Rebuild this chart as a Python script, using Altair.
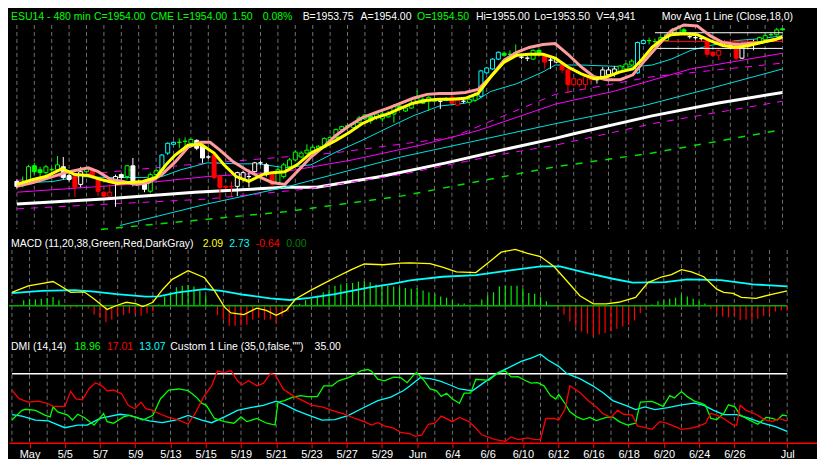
import altair as alt
import numpy as np
import pandas as pd

# ------------------------------------------------------------------ data
# candles (one per 480-min bar, index 0 = Apr 30 first bar)
O = [1876.5,1876,1876,1884.5,1882.5,1881,1882.5,1882.5,1884,1879.5,
     1879,1875,1881.5,1882.5,1877.5,1871,1869,1876,1880,1879,
     1884.5,1876,1876.5,1871.5,1880,1881,1891,1895.5,1896.5,1897,
     1896,1897.5,1895,1889,1890,1879,1874,1874,1874,1877.5,
     1879,1881.5,1886,1885,1880,1876,1879,1884,1887.5,1889,
     1891,1892,1893.5,1894,1897.5,1899,1903,1904.5,1904,1906.5,
     1908.5,1910,1909,1908.5,1909.5,1911,1915,1912.5,1914,1917.5,
     1918.5,1917.5,1917.5,1917.5,1918,1919.5,1915.5,1917.5,1917,1918,
     1920,1932,1934,1939,1942,1941.5,1941.5,1940,1939.5,1939,
     1943.5,1941.5,1938.5,1937.5,1936,1933.5,1926,1926,1926,1928.5,
     1928.5,1930,1931,1931.5,1932.5,1934,1936,1932,1947,1948.5,
     1948,1948.5,1948.5,1953.5,1952,1954,1950.5,1950,1949.5,1948.5,
     1942.5,1941,1947.5,1946,1948,1939.5,1946.5,1947.5,1947.5,1949,
     1951.5,1951.5,1954.5]
H = [1877.5,1879,1885,1886,1884,1885,1883.5,1889.5,1889,1880.5,
     1880,1884,1883.5,1883.5,1878.5,1871.5,1875,1880,1880.5,1885,
     1888.5,1877,1877,1881,1883,1890.5,1896.5,1897,1898.5,1899,
     1898.5,1898,1895.5,1890,1890.5,1880,1874.5,1876.5,1881.5,1882,
     1882.5,1886.5,1887,1886,1881,1883.5,1886,1888.5,1892.5,1892,
     1895.5,1895,1895,1899,1900,1903.5,1905,1906,1907,1910,
     1911,1911,1912,1913,1912.5,1916,1916,1915,1918,1923,
     1919.5,1920,1919,1918,1919.5,1920,1918.5,1918.5,1919,1922,
     1933.5,1935,1939.5,1943,1943,1943.5,1946.5,1941,1940.5,1944,
     1944,1942,1940,1940,1937,1934,1929.5,1929,1930.5,1931,
     1930,1935,1935,1935.5,1936,1937,1939,1948,1949,1950,
     1949.5,1951,1952,1955,1956,1955,1951.5,1951,1950.5,1949,
     1943,1944,1948.5,1947.5,1948.5,1947.5,1947.5,1949,1950.5,1952,
     1952.5,1955,1955]
L = [1873,1873.5,1875,1880,1876,1880,1881.5,1882,1877.5,1876.5,
     1868.5,1873.5,1881,1878,1869,1868.5,1868.5,1863.5,1877.5,1877.5,
     1874,1875,1871,1870.5,1879,1880.5,1890,1895,1893.5,1894,
     1895.5,1892.5,1886,1888,1877.5,1866.5,1873,1869,1869,1876.5,
     1873.5,1881,1885,1879,1874,1875,1878,1883,1887,1888.5,
     1890.5,1891.5,1893,1893.5,1897,1898.5,1902.5,1903,1903.5,1906,
     1908,1906,1908,1907,1909,1906.5,1913,1912,1913.5,1917,
     1916,1912.5,1917,1913.5,1917.5,1916,1915,1916.5,1916.5,1917,
     1919,1931.5,1933.5,1938.5,1940.5,1939.5,1941,1939,1938,1938.5,
     1941,1934,1934,1937,1932,1921.5,1925,1925,1923.5,1927,
     1926.5,1929.5,1930,1930,1932,1933.5,1935.5,1931.5,1946.5,1946.5,
     1947,1948,1948,1952,1951.5,1952.5,1949.5,1949,1948.5,1940,
     1940.5,1938.5,1946,1944.5,1938.5,1939,1945,1943.5,1947,1948.5,
     1950.5,1951,1953.5]
C = [1874,1876,1884,1881.5,1881,1884,1882.5,1885,1878.5,1877.5,
     1873.5,1881.5,1883,1879,1871.5,1869,1871,1879,1878.5,1884.5,
     1875,1876,1872.5,1880,1882,1890,1896,1896.5,1896.5,1897,
     1898,1893.5,1888.5,1889,1878.5,1873.5,1873.5,1874,1881,1881,
     1879,1886,1886,1880,1875,1882.5,1885,1887.5,1891.5,1891,
     1892.5,1894,1894.5,1898.5,1899,1903,1904.5,1905,1906,1909,
     1910.5,1907.5,1911,1911,1911.5,1915,1913.5,1914,1916.5,1919,
     1916.5,1919.5,1918.5,1917.5,1919,1916.5,1918,1917.5,1918.5,1921,
     1933,1934.5,1939,1942.5,1941,1941.5,1942.5,1940,1939.5,1943.5,
     1941.5,1937.5,1938.5,1939,1933.5,1926,1929,1928.5,1930,1930,
     1928.5,1933.5,1933.5,1934,1935.5,1936.5,1938,1947.5,1948.5,1948.5,
     1948,1950,1951.5,1953.5,1955,1953,1950.5,1950,1949.5,1941.5,
     1941,1943.5,1947.5,1946,1939.5,1947,1946.5,1947.5,1950,1951,
     1951.5,1954,1954]
KIND = ("wgggggggww" "rwgrrrrwwg" "wwwggcccgg" "gwwwrrrrww" "wwwwrggggg"
        "gggggggggg" "gggggggggg" "gggwgrrwgg" "ccccgggwwg" "grwwrrrrrr"
        "wwwwgggccg" "ggggggwwwr" "rrwwrwwwgg" "ggg")

# moving averages (bar index, price)
MA_YELLOW = [(0,1875),(2.8,1877.5),(5,1879),(7.8,1883),(10,1880),(12.3,1879.5),(14.5,1877.5),
             (17.3,1875.5),(19.5,1876),(21.7,1876.5),(24,1878.5),(25.7,1885),(27.3,1890),
             (29.5,1895),(31.7,1895.5),(34,1891),(35.7,1885),(37.8,1879),(40,1876.5),
             (42.3,1880),(44,1881),(46.2,1881.5),(48.3,1885),(50.7,1891),(52.8,1894),
             (55,1897.5),(57.3,1901.5),(59.5,1906),(61.7,1909),(64,1911),(66.2,1914),
             (68.3,1916.5),(70.7,1918),(72.8,1918.5),(75,1918.5),(77.3,1919),(79.5,1921.5),
             (81.7,1930),(84,1937.5),(86.2,1941),(88.3,1941.5),(90.7,1941.5),(92.8,1939.5),
             (95,1935),(97.3,1931.5),(99.5,1929),(101.7,1930),(104,1932.5),(106.2,1934),
             (107.8,1939),(109.5,1945),(111.2,1949),(112.8,1951.5),(115,1952),(117.3,1951.5),
             (119.5,1948.5),(121.7,1946),(124,1945),(126.2,1946),(128.3,1947.5),(130.7,1949),
             (132,1950.5)]
MA_SALMON = [(0,1874),(2.8,1876),(6.2,1879),(8.3,1881),(10.7,1882.5),(12.3,1883.5),(14,1881.5),
             (16.2,1877.5),(18.3,1876.5),(20.7,1875),(22.8,1876),(25,1880),(27.3,1886.5),
             (29.5,1894),(31.7,1896.5),(33.3,1896.5),(35,1892.5),(37.3,1886.5),(39.5,1882.5),
             (41.7,1879),(44,1876),(46.2,1875),(48.3,1881.5),(50.7,1889),(52.8,1894),
             (55,1900),(57.3,1905),(59.5,1909),(61.7,1911.5),(64,1914),(66.2,1916.5),
             (68.3,1919),(70.7,1921),(72.8,1921.5),(75,1921.5),(77.3,1922),(79.5,1923.5),
             (81.7,1930),(84,1938.5),(86.2,1942.5),(88.3,1945),(90.7,1946.5),(92.8,1947),
             (95,1941.5),(97.3,1935),(99.5,1930),(101.7,1928.5),(104,1928.5),(106.2,1931),
             (108.3,1938.5),(110.7,1946.5),(112.8,1953.5),(115,1956.5),(117.3,1956),
             (119.5,1951),(121.7,1947.5),(124,1946.5),(126.2,1947),(128.3,1947.5),
             (130.7,1949),(132,1950)]
MA_CYAN_FAST = [(0,1876),(2.8,1876),(6.2,1876.5),(10.7,1879),(16.2,1878.5),(21.7,1878.5),
                (25,1879),(28.3,1882.5),(32.8,1886),(38.3,1885.5),(41.7,1885.5),(46.2,1883.5),
                (50.7,1885),(55,1891.5),(59.5,1897.5),(64,1904),(68.3,1910),(72.8,1915),
                (77.3,1916.5),(79.5,1918.5),(81.7,1922.5),(86.2,1926.5),(90.7,1932.5),
                (92.8,1936),(97.3,1936),(101.7,1935.5),(106.2,1935),(109.5,1936),
                (112.8,1939),(116.2,1943.5),(119.5,1946),(124,1948.5),(128.3,1949.5),(132,1951)]
MA_MAGENTA = [(0,1871),(19.5,1875),(32.8,1879),(46.2,1881.5),(57.8,1887.5),(69.5,1895),
              (79.5,1902.5),(92.8,1916),(102.8,1922.5),(116.2,1934),(132,1942)]
BAND_UPPER = [(0,1877),(29.5,1885),(54.5,1891),(75,1899),(92.8,1921),(109.5,1930),(132,1937)]
BAND_LOWER = [(0,1862.5),(16.2,1865),(32.8,1867.5),(49.5,1872.5),(66.2,1880),(82.8,1890),
              (92.8,1895),(109.5,1906),(132,1917.5)]
MA_CYAN_SLOW = [(17.8,1854),(32.8,1865),(46.2,1873.5),(66.2,1889),(79.5,1897.5),(92.8,1906),
                (107.8,1915),(119.5,1924),(132,1934)]
MA_WHITE = [(0,1865),(15,1867.5),(30.7,1871),(46.2,1873.5),(51.7,1873.5),(62.8,1879),
            (74,1886),(85,1893.5),(92.8,1898.5),(96.2,1901),(109.5,1910),(120.7,1916.5),
            (132,1922)]
MA_GREEN = [(14.5,1852),(46.2,1861),(66.2,1869),(79.5,1876.5),(92.8,1884),(109.5,1891),
            (132,1903)]
# horizontal levels (from bar, to bar, price, colour)
LEVELS = [(110, 132, 1952.5, "#ffffff"), (110, 132, 1944.5, "#ffffff"), (111, 132, 1948.0, "#ff0000")]

# MACD
HIST = [0.0,0.1,0.78,0.9,0.9,1.0,1.1,1.23,0.78,0.05,
        -0.37,-0.23,-0.05,-0.37,-1.2,-1.7,-2.3,-1.9,-1.4,-1.3,
        -1.05,-1.14,-1.4,-1.05,-0.8,0.2,1.3,1.9,2.6,2.8,
        2.9,2.7,2.15,1.46,0.2,-1.3,-1.96,-2.8,-2.8,-2.8,
        -2.65,-1.96,-1.7,-1.96,-1.9,-2.4,-1.5,-0.8,0.0,0.3,
        0.78,1.0,1.46,1.9,2.3,2.8,3.0,3.2,3.2,3.4,
        3.4,3.3,3.0,2.97,2.8,2.7,2.6,2.5,2.4,2.5,
        2.15,1.9,1.7,1.3,1.14,0.78,0.32,0.32,0.18,0.18,
        0.87,1.46,1.9,2.7,2.8,2.8,2.8,2.4,1.8,1.7,
        1.3,0.64,0.1,-0.37,-1.2,-2.2,-2.9,-3.6,-3.9,-4.25,
        -4.0,-3.8,-3.6,-3.2,-2.9,-2.65,-2.05,-1.05,-0.23,0.18,
        0.64,0.78,1.0,1.14,1.6,1.3,1.0,0.64,0.32,-0.46,
        -1.14,-1.5,-1.6,-1.4,-2.0,-1.9,-2.05,-1.8,-1.4,-1.14,
        -0.8,-0.6,-0.64]
MACD_LINE = [(0,1.88),(2.8,2.78),(5,3.1),(7,3.4),(8.3,2.78),(10,1.88),(12.3,1.96),(14,0.96),
             (16.2,-0.5),(17.8,0.05),(19.5,0.5),(21.2,0.27),(22.3,-0.09),(24,0.5),(25.7,2.33),
             (27.3,3.7),(30,4.93),(32.8,3.93),(34.5,2.1),(36.2,-0.18),(37.3,-1.0),(39.5,-1.23),
             (41.7,-0.32),(43.3,-0.64),(45,-1.32),(46.7,-0.64),(48.3,0.96),(50.7,2.1),(52.8,3.0),
             (55,3.93),(57.8,5.07),(60,5.85),(63.3,5.75),(66.2,5.99),(67.8,6.0),(71.2,5.9),
             (73.3,5.4),(75.7,4.75),(79,4.66),(81.2,6.1),(83.3,7.5),(85.7,7.9),(87.8,7.35),
             (90,6.9),(92.3,5.5),(94.5,3.47),(96.7,1.41),(99,0.27),(101.2,0.27),(103.3,0.5),
             (106.2,1.19),(108.3,3.25),(110.7,4.07),(112.3,4.38),(114,5.07),(115.7,4.75),
             (117.8,4.07),(120,2.33),(121.2,1.88),(122.8,1.74),(124.2,1.19),(126.7,1.05),
             (129,1.55),(132,2.09)]
SIGNAL_LINE = [(0,1.78),(5,2.1),(10.7,2.19),(14,2.0),(17.8,1.64),(22.8,1.28),(25,1.32),
               (28.3,1.88),(32.8,2.33),(35.7,2.1),(39.5,1.55),(44,1.05),(47.3,0.82),(50.7,1.1),
               (55,1.64),(60.7,2.56),(65,3.1),(67.8,3.56),(73.3,4.07),(79,4.29),(84.5,4.93),
               (90,5.52),(93.3,5.52),(97.8,4.6),(102.3,3.79),(105.7,3.25),(111.2,3.33),
               (115,3.7),(120.7,3.6),(126.2,3.0),(132,2.73)]

# DMI
DI_PLUS = [(0,17.4),(1.7,21.1),(2.3,21.5),(4,21.1),(5.6,19.3),(6.5,18.6),(7,22.4),(7.8,20.5),
           (9.5,19.3),(10.3,17.4),(11.2,19.6),(12.3,18.4),(14,15.5),(15.6,19.9),(16.2,16.8),
           (17.3,16.2),(19,18.6),(20,19.2),(21.2,18.4),(22.3,17.4),(24,19.2),(25.3,25.5),
           (26.7,28.8),(28.4,29.2),(30,28.6),(31.4,26.1),(32.3,23.8),(33.1,23.0),(34.5,18.0),
           (36.2,16.8),(37.8,16.2),(39,18.6),(40,16.8),(41.7,18.0),(43.4,16.2),(44.8,15.5),
           (45.3,24.2),(46.4,24.8),(47.8,26.1),(49.2,26.7),(50.3,26.3),(52,26.3),(53.1,30.4),
           (54.5,30.4),(55.6,32.3),(57.3,33.5),(58.4,34.7),(59.5,36.2),(60.6,36.6),(61.2,36.0),
           (62.3,32.9),(63.4,32.3),(65,33.7),(66.2,33.5),(67.3,31.6),(68.4,34.5),(68.9,35.4),
           (70,32.9),(71.2,29.2),(72.3,28.5),(73.1,26.4),(74,27.6),(75,25.4),(76.2,23.8),
           (77,27.6),(78.1,27.6),(79,32.9),(81.2,32.5),(82.8,35.4),(84,36.0),(85,33.8),
           (86.2,33.9),(87.3,32.5),(88.4,31.4),(89.5,31.6),(90.6,30.4),(91.7,26.7),(92.6,25.4),
           (93.1,27.1),(94.2,23.6),(95,20.5),(96.2,18.6),(97.3,17.6),(98.4,18.4),(99.5,17.2),
           (101.2,18.4),(102.3,18.6),(103.4,16.8),(104.8,15.5),(106.2,16.2),(107,24.2),
           (109,24.5),(110.9,22.6),(112,26.7),(112.8,25.8),(114,28.2),(115,26.3),(116.2,24.6),
           (117.3,23.8),(118.1,23.0),(119,18.0),(120,17.6),(121.2,19.9),(122,23.2),(123.1,22.4),
           (124,19.3),(125.6,17.4),(127,15.8),(128.4,18.4),(129.5,18.0),(130.3,17.4),
           (131.2,19.3),(132,18.96)]
DI_MINUS = [(0,28.8),(1.2,25.5),(2.8,24.2),(4.5,24.6),(6.2,23.6),(7,22.6),(9,22.6),(10,28.3),
            (10.9,25.4),(12,25.1),(13.1,29.2),(14.2,31.6),(15.3,30.4),(16.2,28.5),(17.3,28.8),
            (18.7,27.3),(19.8,23.0),(20.9,21.7),(22,24.2),(22.8,21.7),(24,21.1),(25,19.9),
            (26.7,18.4),(28.4,17.4),(30,15.9),(31.2,19.9),(32.6,26.1),(34,30.4),(35,36.0),
            (36.2,35.4),(37.3,36.2),(38.4,32.3),(39.2,30.8),(40.3,32.3),(41.7,30.4),(42.8,31.3),
            (44,35.0),(44.8,34.7),(46.2,29.2),(47.8,26.7),(49.5,24.8),(51.2,23.0),(52.8,22.4),
            (54.5,21.1),(56.7,19.6),(58.4,18.0),(60,16.8),(61.2,15.5),(62.3,16.4),(63.4,15.2),
            (65,14.3),(66.2,12.7),(67.8,12.2),(68.7,11.2),(69.8,11.8),(70.9,15.8),(72,16.2),
            (73.1,18.9),(75,16.8),(76.2,18.4),(77.8,16.8),(79,14.3),(80,11.8),(82.3,10.0),
            (84,9.3),(85,11.0),(86.2,10.0),(87.8,10.6),(89,10.0),(90,10.0),(90.9,18.0),
            (92.3,18.0),(93.1,17.4),(94.2,21.7),(95,30.4),(96.7,27.9),(98.1,24.8),(99.5,22.4),
            (100.6,19.9),(102,18.4),(103.1,21.1),(104.2,19.6),(105.6,19.3),(106.5,15.2),
            (107.5,14.7),(109,13.9),(110.3,16.8),(111.2,16.4),(112.3,15.5),(114,13.9),
            (115.6,14.3),(116.7,14.9),(118.1,16.2),(119,19.9),(120,19.3),(121.2,18.0),
            (122.8,15.5),(123.4,15.4),(124,23.0),(125,21.1),(126.7,19.6),(128.1,17.6),
            (129.5,16.8),(130.6,18.0),(132,17.01)]
ADX = [(0,19.5),(1.7,18.9),(4,17.4),(6.2,17.1),(9,14.5),(11.2,15.5),(12.8,15.5),(15,18.0),
       (16.2,18.6),(18.4,19.6),(20,19.2),(21.7,18.0),(23.4,17.1),(25.6,16.4),(27.8,17.4),
       (30,19.2),(32.3,17.4),(34,16.4),(36.2,18.6),(38.4,21.1),(40.6,22.1),(42.8,23.0),
       (45,24.6),(46.7,23.0),(48.4,21.1),(50.6,19.2),(52.8,17.4),(55,17.6),(57.3,19.2),
       (59.5,21.7),(62.3,24.8),(64.5,26.1),(66.7,28.6),(67.8,30.4),(69.5,33.5),(71.2,33.1),
       (72.8,32.3),(74.5,30.8),(76.2,29.2),(78.4,28.5),(80.6,32.0),(82.8,35.4),(84.5,37.2),
       (86.7,39.7),(88.4,40.9),(90,42.4),(91.2,40.3),(93.1,37.8),(94.5,35.0),(96.7,33.1),
       (98.9,30.4),(100.6,27.9),(102.3,24.8),(104.5,23.0),(106.2,21.4),(107.8,22.4),
       (109.5,21.4),(111.7,22.1),(114,23.2),(116.2,23.8),(117.8,23.0),(119.5,21.1),
       (121.2,19.5),(123.4,19.5),(125.6,18.0),(127.8,16.2),(130,14.9),(132,13.07)]
DMI_LEVEL = 35

TICK_BARS = [3, 9, 15, 21, 27, 33, 39, 45, 51, 57, 63, 69, 75, 81, 87, 93, 99, 105, 111, 117, 123, 132]
TICK_LABELS = ["May", "5/5", "5/7", "5/9", "5/13", "5/15", "5/19", "5/21", "5/23", "5/27", "5/29",
               "Jun", "6/4", "6/6", "6/10", "6/12", "6/16", "6/18", "6/20", "6/24", "6/26", "Jul"]
DAY_STARTS = list(range(0, 133, 3))

# ------------------------------------------------------------------ layout / style
FONT = "Liberation Sans, Arial, sans-serif"
FS = 10.5
W = 809
HA, HB, HC = 221, 108, 100
XS = alt.Scale(domain=[-0.5, 137.08], nice=False, zero=False)
PS = alt.Scale(domain=[1852.2, 1965], nice=False, zero=False)
MS = alt.Scale(domain=[-4.90, 10.19], nice=False, zero=False)
DS = alt.Scale(domain=[8.79, 46.71], nice=False, zero=False)
COLS = {"g": "#00ff00", "r": "#ff0000", "w": "#ffffff", "c": "#00ffff"}
GRID = "#707070"
DUMMY = pd.DataFrame({"a": [0]})

label_expr = ("[" + ",".join("'%s'" % t for t in TICK_LABELS) + "][indexof(["
              + ",".join(str(b) for b in TICK_BARS) + "], datum.value)]")
XAXIS = alt.Axis(values=TICK_BARS, labelExpr=label_expr, title="", grid=False,
                 domainColor="#ff0000", domainWidth=1.5, tickColor="#ff0000", tickSize=5,
                 tickWidth=1, labelColor="#ffffff", labelFont=FONT, labelFontSize=11,
                 labelPadding=1, labelFlush=False, labelOverlap=False, labelAngle=0)


def xenc(field="b:Q", axis=None):
    if axis is None:
        return alt.X(field, scale=XS, axis=None)
    return alt.X(field, scale=XS, axis=axis)


def line(pts, color, width, yscale, dash=None, axis=None):
    d = pd.DataFrame(pts, columns=["b", "v"])
    kw = dict(color=color, strokeWidth=width)
    if dash:
        kw["strokeDash"] = dash
    return alt.Chart(d).mark_line(**kw).encode(
        x=xenc(axis=axis), y=alt.Y("v:Q", scale=yscale, axis=None))


def grid(top, h, axis=None):
    return alt.Chart(pd.DataFrame({"b": DAY_STARTS})).mark_rule(
        color=GRID, strokeDash=[4, 3], strokeWidth=1).encode(
        x=xenc(axis=axis), y=alt.value(top), y2=alt.value(h))


def txt(s, color, x, y):
    return alt.Chart(DUMMY).mark_text(text=s, color=color, align="left", baseline="middle",
                                      font=FONT, fontSize=FS).encode(
        x=alt.value(x), y=alt.value(y))


def hline(b0, b1, v, color, yscale, width=1.5, axis=None):
    d = pd.DataFrame({"b": [b0], "b1": [b1], "v": [v]})
    return alt.Chart(d).mark_rule(color=color, strokeWidth=width).encode(
        x=xenc(axis=axis), x2="b1:Q", y=alt.Y("v:Q", scale=yscale, axis=None))


# ------------------------------------------------------------------ price panel
cdf = pd.DataFrame({"b": list(range(len(O))), "O": O, "H": H, "L": L, "C": C, "k": list(KIND)})
cdf["stroke"] = cdf["k"].map(COLS)
cdf["fill"] = np.where(cdf["C"] >= cdf["O"], "#000000", cdf["stroke"])

wicks = alt.Chart(cdf).mark_rule(strokeWidth=1).encode(
    x=xenc(), y=alt.Y("L:Q", scale=PS, axis=None), y2="H:Q",
    color=alt.Color("stroke:N", scale=None))
bodies = alt.Chart(cdf).mark_bar(size=4, strokeWidth=1).encode(
    x=xenc(), y=alt.Y("O:Q", scale=PS, axis=None), y2="C:Q",
    fill=alt.Fill("fill:N", scale=None), stroke=alt.Stroke("stroke:N", scale=None))

price_layers = [
    grid(16.7, HA),
    line(MA_GREEN, "#00e000", 1.5, PS, dash=[7, 8]),
    line(MA_WHITE, "#ffffff", 3, PS),
    line(MA_CYAN_SLOW, "#00e0e0", 1, PS),
    line(BAND_LOWER, "#ff00ff", 1, PS, dash=[7, 7]),
    line(BAND_UPPER, "#ff00ff", 1, PS, dash=[7, 7]),
    line(MA_MAGENTA, "#ff00ff", 1, PS),
    line(MA_CYAN_FAST, "#00e0e0", 1, PS),
    wicks, bodies,
]
for b0, b1, v, col in LEVELS:
    price_layers.append(hline(b0, b1, v, col, PS, width=1))
price_layers += [
    line(MA_SALMON, "#ff9d9d", 3, PS),
    line(MA_YELLOW, "#ffff00", 3, PS),
]
hy = 8.8
for s, col, x in [("ESU14 - 480 min", "#00ff00", 2), ("C=1954.00", "#00ff00", 85),
                  ("CME", "#00ff00", 142), ("L=1954.00", "#00ff00", 168.5),
                  ("1.50", "#00ff00", 223.5), ("0.08%", "#00ff00", 254),
                  ("B=1953.75", "#ffffff", 294), ("A=1954.00", "#ffffff", 352),
                  ("O=1954.50", "#00ff00", 408.5), ("Hi=1955.00", "#ffffff", 467.5),
                  ("Lo=1953.50", "#ffffff", 526), ("V=4,941", "#ffffff", 588),
                  ("Mov Avg 1 Line (Close,18,0)", "#ffffff", 653.5)]:
    price_layers.append(txt(s, col, x, hy))
price = alt.layer(*price_layers).properties(width=W, height=HA)

# ------------------------------------------------------------------ MACD panel
hdf = pd.DataFrame({"b": list(range(len(HIST))), "v": HIST})
hdf["z"] = 0.0
hdf["col"] = np.where(hdf["v"] >= 0, "#00ee00", "#ff0000")
hist = alt.Chart(hdf).mark_rule(strokeWidth=1.2).encode(
    x=xenc(), y=alt.Y("v:Q", scale=MS, axis=None), y2="z:Q",
    color=alt.Color("col:N", scale=None))
macd_layers = [
    grid(17, HB),
    hist,
    hline(-0.5, 132, 0, "#00b000", MS, width=1.5),
    line(SIGNAL_LINE, "#00ffff", 1.8, MS),
    line(MACD_LINE, "#ffff00", 1.3, MS),
]
my = 10.7
for s, col, x in [("MACD (11,20,38,Green,Red,DarkGray)", "#ffffff", 2), ("2.09", "#ffff00", 194),
                  ("2.73", "#00ffff", 220.5), ("-0.64", "#ff0000", 247), ("0.00", "#008000", 277.5)]:
    macd_layers.append(txt(s, col, x, my))
macd = alt.layer(*macd_layers).properties(width=W, height=HB)

# ------------------------------------------------------------------ DMI panel
dmi_layers = [
    grid(11, HC, axis=XAXIS),
    hline(0, 132, DMI_LEVEL, "#ffffff", DS, width=1.5, axis=XAXIS),
    line(ADX, "#00ffff", 1.3, DS, axis=XAXIS),
    line(DI_PLUS, "#00ff00", 1.3, DS, axis=XAXIS),
    line(DI_MINUS, "#ff0000", 1.3, DS, axis=XAXIS),
]
dy = 4.3
for s, col, x in [("DMI (14,14)", "#ffffff", 2), ("18.96", "#00ff00", 65.5),
                  ("17.01", "#ff0000", 98), ("13.07", "#00ffff", 130.5),
                  ('Custom 1 Line (35,0,false,"")', "#ffffff", 161.5), ("35.00", "#ffffff", 306)]:
    dmi_layers.append(txt(s, col, x, dy))
dmi = alt.layer(*dmi_layers).properties(width=W, height=HC)

chart = alt.vconcat(price, macd, dmi, spacing=0).properties(
    padding=0, background="#000000").configure_view(strokeWidth=0)

chart.save("out.html", embed_options={"renderer": "svg", "actions": False})
